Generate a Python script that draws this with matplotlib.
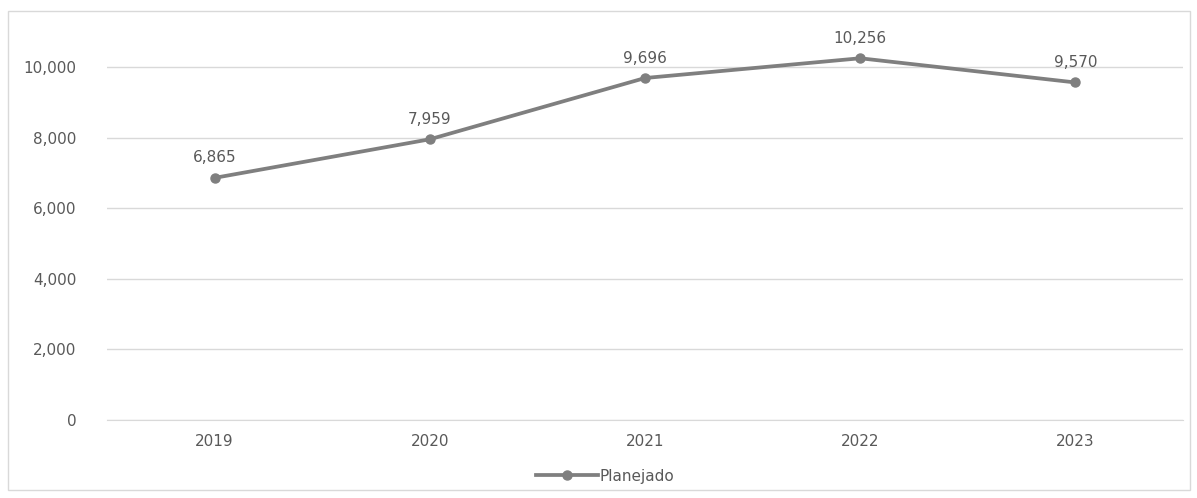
import matplotlib.pyplot as plt
from matplotlib.patches import Rectangle

years = ['2019', '2020', '2021', '2022', '2023']
planejado = [6865, 7959, 9696, 10256, 9570]
yticks = [0, 2000, 4000, 6000, 8000, 10000]

text_color = '#595959'
line_color = '#7f7f7f'
fs = 11
plt.rcParams['font.family'] = ['DejaVu Sans']

fig = plt.figure(figsize=(11.97, 4.98), dpi=100)
ax = fig.add_axes([0.0894, 0.1566, 0.8989, 0.7791])

# outer chart border like excel
fig.patches.append(Rectangle((8 / 1197, 8 / 498), 1182 / 1197, 479 / 498,
                             transform=fig.transFigure, fill=False,
                             edgecolor='#d9d9d9', linewidth=1))

x = list(range(len(years)))
ax.plot(x, planejado, color=line_color, linewidth=2.7, marker='o',
        markersize=6.5, label='Planejado', zorder=3)

for xi, v in zip(x, planejado):
    ax.annotate(f'{v:,}', (xi, v), xytext=(0, 9), textcoords='offset points',
                ha='center', va='bottom', fontsize=fs, color=text_color)

ax.set_xlim(-0.5, len(years) - 0.5)
ax.set_ylim(0, 11000)
ax.set_xticks(x)
ax.set_xticklabels(years)
ax.set_yticks(yticks)
ax.set_yticklabels([f'{t:,}' for t in yticks])
ax.tick_params(axis='both', length=0, labelsize=fs, labelcolor=text_color)
ax.tick_params(axis='y', pad=22)
ax.tick_params(axis='x', pad=10)

ax.grid(axis='y', color='#d9d9d9', linewidth=1)
ax.set_axisbelow(True)
for s in ['top', 'right', 'left']:
    ax.spines[s].set_visible(False)
ax.spines['bottom'].set_color('#d9d9d9')

ax.legend(loc='center', bbox_to_anchor=(0.463, -0.145), frameon=False,
          fontsize=fs, labelcolor=text_color, handlelength=4.0,
          handletextpad=0.1)

fig.savefig('out.png', dpi=100)
